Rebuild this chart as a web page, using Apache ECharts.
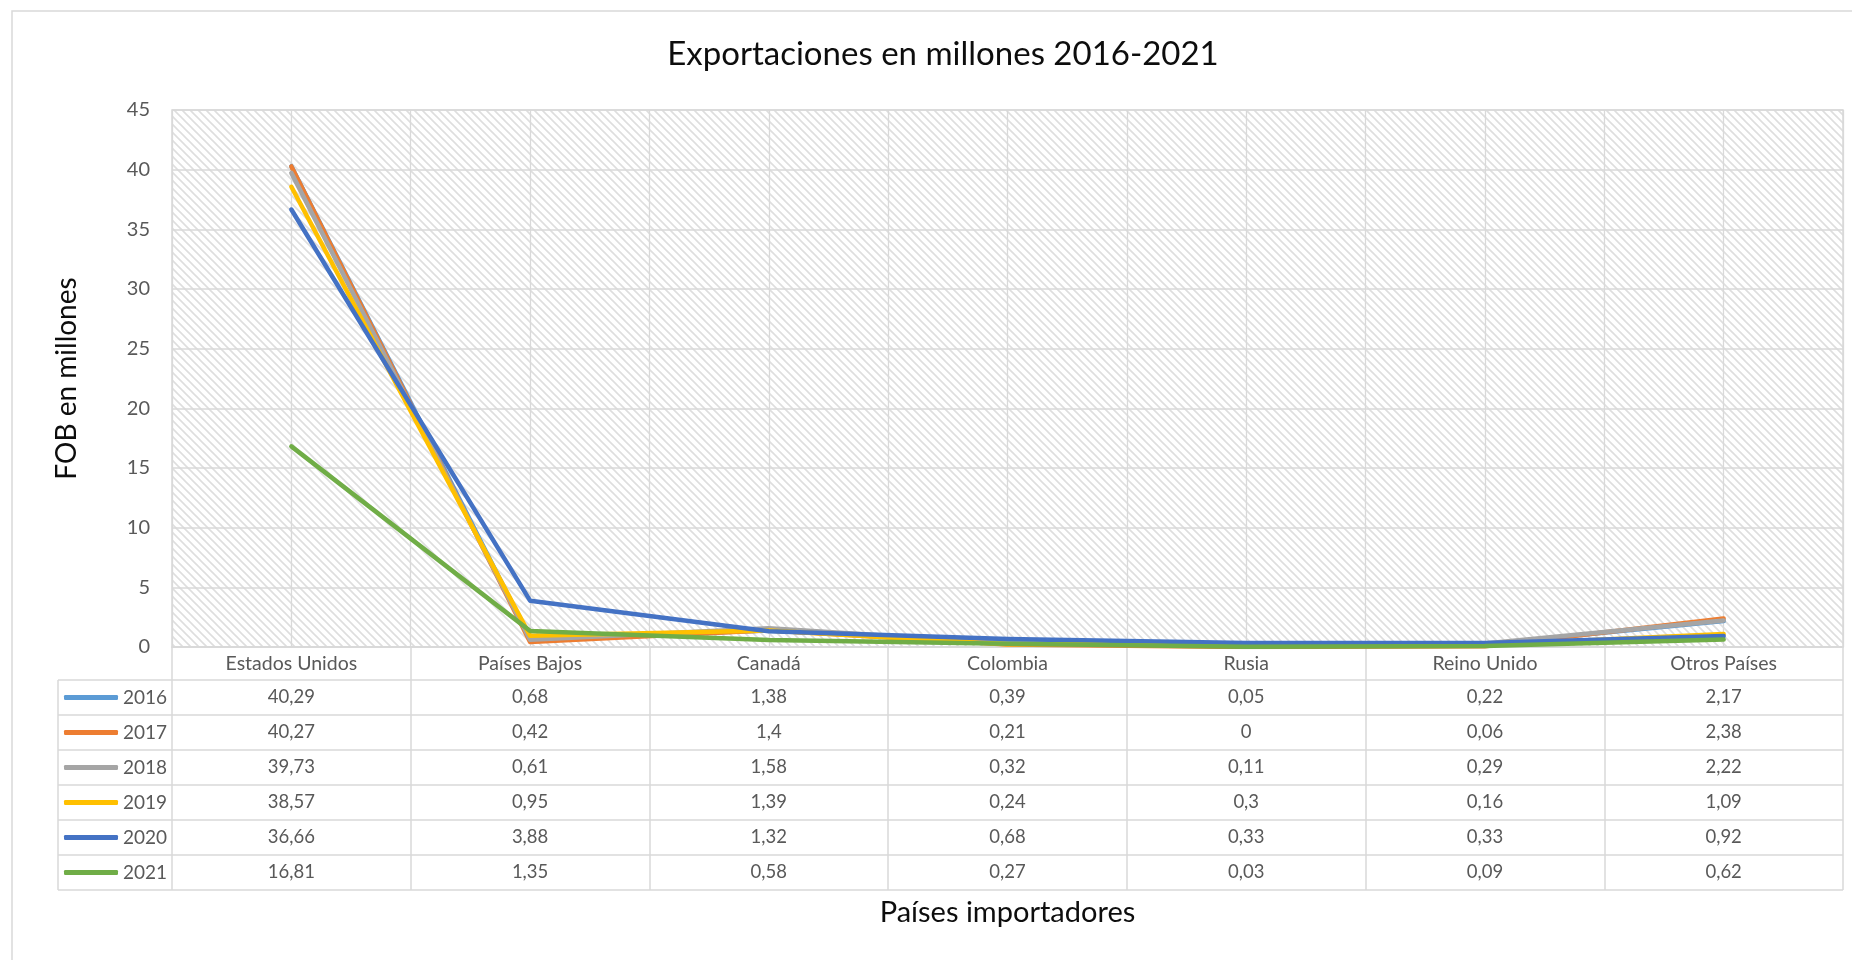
<!DOCTYPE html>
<html>
<head>
<meta charset="utf-8">
<script src="https://cdn.jsdelivr.net/npm/echarts@6/dist/echarts.min.js"></script>
<style>
html,body{margin:0;padding:0;background:#fff;}
#main{width:1852px;height:960px;}
</style>
</head>
<body>
<div id="main"></div>
<script>
const categories = ['Estados Unidos','Países Bajos','Canadá','Colombia','Rusia','Reino Unido','Otros Países'];
const years = ['2016','2017','2018','2019','2020','2021'];
const v2016 = [40.29, 0.68, 1.38, 0.39, 0.05, 0.22, 2.17];
const v2017 = [40.27, 0.42, 1.4, 0.21, 0, 0.06, 2.38];
const v2018 = [39.73, 0.61, 1.58, 0.32, 0.11, 0.29, 2.22];
const v2019 = [38.57, 0.95, 1.39, 0.24, 0.3, 0.16, 1.09];
const v2020 = [36.66, 3.88, 1.32, 0.68, 0.33, 0.33, 0.92];
const v2021 = [16.81, 1.35, 0.58, 0.27, 0.03, 0.09, 0.62];
const yTicks = [0, 45, 5]; // min, max, interval
const titleText = 'Exportaciones en millones 2016-2021';
const yName = 'FOB en millones';
const xName = 'Países importadores';

const seriesValues = [v2016, v2017, v2018, v2019, v2020, v2021];
const colors = ['#5B9BD5','#ED7D31','#A5A5A5','#FFC000','#4472C4','#70AD47'];
const FONT = 'Lato';
const GRID = {left:172, right:9, top:110, bottom:313};
const W = 1852, H = 960;
const HEADER_H = 33, ROW_H = 35;
const TABLE_LEFT = 58;
const LINE_C = '#d9d9d9';

function hatch(){
  const s = 8, c = document.createElement('canvas');
  c.width = s; c.height = s;
  const g = c.getContext('2d');
  g.fillStyle = '#ffffff'; g.fillRect(0,0,s,s);
  g.strokeStyle = '#dedede'; g.lineWidth = 1.6;
  g.beginPath();
  g.moveTo(-1,-1); g.lineTo(s+1,s+1);
  g.moveTo(s-2,-2); g.lineTo(s+2,2);
  g.moveTo(-2,s-2); g.lineTo(2,s+2);
  g.stroke();
  return c;
}
const fmt = v => String(v).replace('.', ',');

const plotBottom = H - GRID.bottom;
const plotRight = W - GRID.right;
const tableTop = plotBottom + HEADER_H;

const xAxes = [{
  type:'category', data:categories, gridIndex:0, position:'bottom', offset:0,
  boundaryGap:true,
  axisLine:{show:true, lineStyle:{color:LINE_C, width:1.5}},
  axisTick:{show:true, length:HEADER_H, lineStyle:{color:LINE_C, width:1.5}},
  axisLabel:{show:true, margin:HEADER_H/2, verticalAlign:'middle', color:'#595959', fontSize:19.5, fontFamily:FONT, interval:0},
  splitLine:{show:false},
  name:xName, nameLocation:'middle', nameGap:251,
  nameTextStyle:{color:'#0d0d0d', fontSize:29, fontFamily:FONT, verticalAlign:'top'}
},{
  type:'value', gridIndex:0, position:'top', min:0, max:categories.length*2, interval:1,
  axisLine:{show:false}, axisTick:{show:false}, axisLabel:{show:false},
  splitLine:{show:true, lineStyle:{color:LINE_C, width:1.3}}
}];
seriesValues.forEach((vals, i) => {
  xAxes.push({
    type:'category', data:categories, gridIndex:0, position:'bottom',
    offset: HEADER_H + ROW_H*i, boundaryGap:true,
    axisLine:{show:false},
    axisTick:{show:true, length:ROW_H, lineStyle:{color:LINE_C, width:1.5}},
    axisLabel:{show:true, margin:ROW_H/2, verticalAlign:'middle', color:'#595959', fontSize:18.5, fontFamily:FONT, interval:0,
      formatter:(v, idx) => fmt(vals[idx])},
    splitLine:{show:false}
  });
});

const graphics = [{
  type:'rect', shape:{x:12, y:11, width:W, height:H}, style:{fill:'none', stroke:LINE_C, lineWidth:1.5}, z:-10, silent:true
},{
  type:'text', x:943, y:54, style:{text:titleText, fontFamily:FONT, fontSize:33, fill:'#0d0d0d', textAlign:'center', textVerticalAlign:'middle'}, silent:true
}];
for (let k = 0; k <= years.length; k++) {
  const y = tableTop + ROW_H*k;
  graphics.push({type:'line', shape:{x1:TABLE_LEFT, y1:y, x2:plotRight, y2:y}, style:{stroke:LINE_C, lineWidth:1.5}, silent:true});
}
graphics.push({type:'line', shape:{x1:TABLE_LEFT, y1:tableTop, x2:TABLE_LEFT, y2:tableTop+ROW_H*years.length}, style:{stroke:LINE_C, lineWidth:1.5}, silent:true});

const option = {
  animation:false,
  backgroundColor:'#ffffff',
  legend:{orient:'vertical', left:64, top:tableTop, padding:0, itemGap:0,
    itemWidth:54, itemHeight:5, icon:'roundRect',
    textStyle:{fontFamily:FONT, fontSize:19, color:'#595959', lineHeight:ROW_H},
    data:years},
  grid:{left:GRID.left, right:GRID.right, top:GRID.top, bottom:GRID.bottom, show:true,
    backgroundColor:{image:hatch(), repeat:'repeat'}, borderColor:LINE_C, borderWidth:1.5, containLabel:false},
  xAxis:xAxes,
  yAxis:{type:'value', min:yTicks[0], max:yTicks[1], interval:yTicks[2],
    axisLine:{show:false}, axisTick:{show:false},
    axisLabel:{color:'#595959', fontSize:20, fontFamily:FONT, margin:22},
    splitLine:{show:true, lineStyle:{color:LINE_C, width:1.5}},
    name:yName, nameLocation:'middle', nameRotate:90, nameGap:91,
    nameTextStyle:{color:'#0d0d0d', fontSize:28, fontFamily:FONT}},
  graphic:graphics,
  series: years.map((y, i) => ({
    name:y, type:'line', xAxisIndex:0, yAxisIndex:0, data:seriesValues[i],
    symbol:'none', showSymbol:false,
    lineStyle:{color:colors[i], width:4.5, cap:'round', join:'round'},
    itemStyle:{color:colors[i]}, z:2+i
  }))
};

const chart = echarts.init(document.getElementById('main'), null, {renderer:'canvas'});
chart.setOption(option);
</script>
</body>
</html>
